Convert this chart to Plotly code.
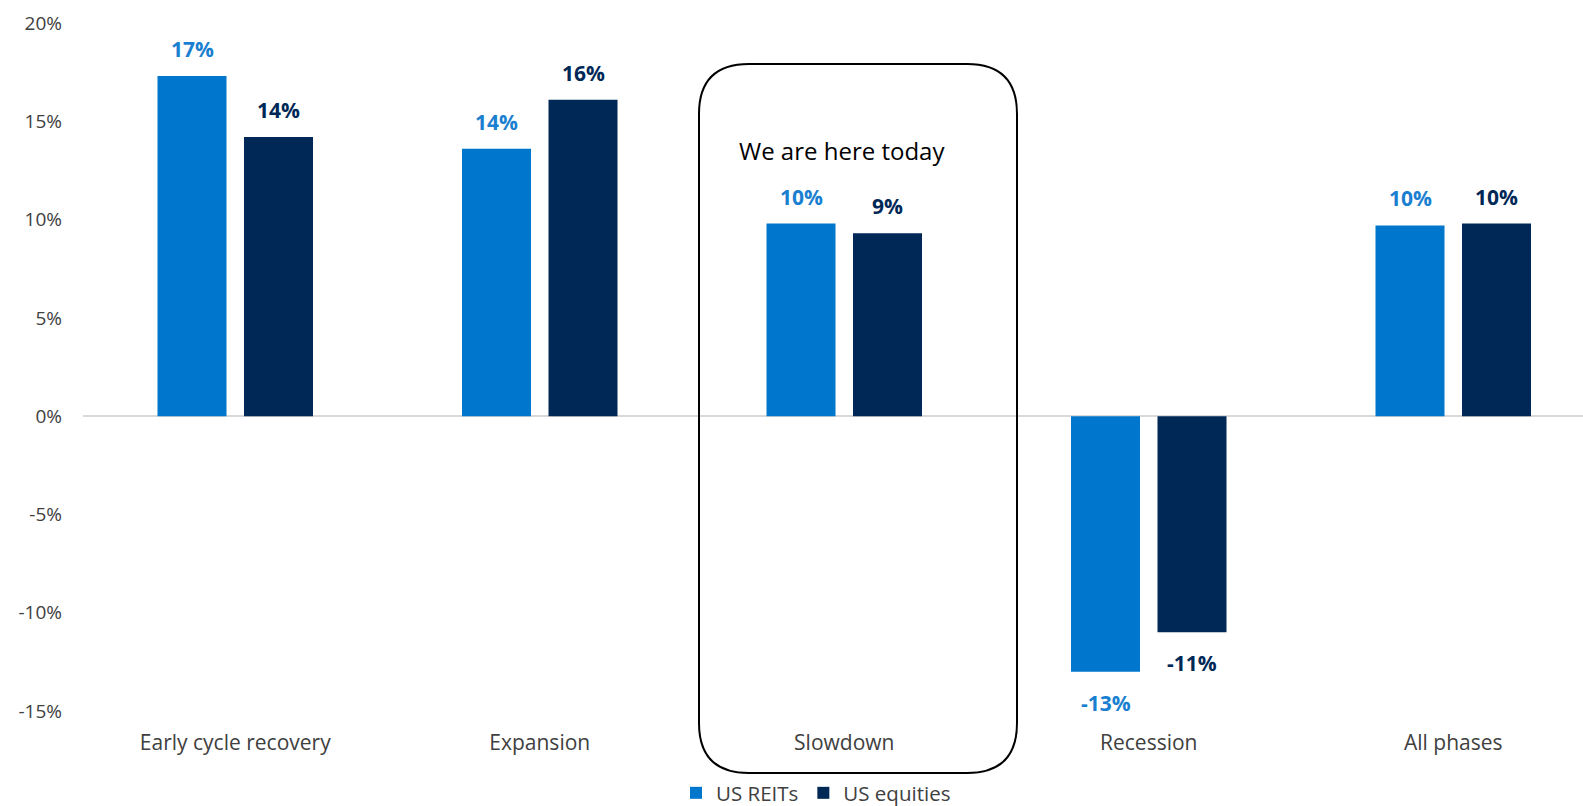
import plotly.graph_objects as go

categories = ["Early cycle recovery", "Expansion", "Slowdown", "Recession", "All phases"]
reits = [17.3, 13.6, 9.8, -13.0, 9.7]
equities = [14.2, 16.1, 9.3, -11.0, 9.8]
reit_labels = ["17%", "14%", "10%", "-13%", "10%"]
eq_labels = ["14%", "16%", "9%", "-11%", "10%"]
ytickvals = [-15, -10, -5, 0, 5, 10, 15, 20]
yticktext = ["-15%", "-10%", "-5%", "0%", "5%", "10%", "15%", "20%"]

C_REIT = "#0077CC"
C_EQ = "#002856"
FONT = "Open Sans"
TXT = "#404040"

W, H = 1583, 806
ML, MR, MT, MB = 83, 0, 23, 95
PW, PH = W - ML - MR, H - MT - MB
BAND = 304.5
SLOT = 86.5

fig = go.Figure()
fig.add_trace(go.Bar(x=categories, y=reits, name="US REITs", marker=dict(color=C_REIT, line=dict(width=0))))
fig.add_trace(go.Bar(x=categories, y=equities, name="US equities", marker=dict(color=C_EQ, line=dict(width=0))))

def add_labels(vals, labels, color, shift):
    for c, v, t in zip(categories, vals, labels):
        fig.add_annotation(x=c, y=v, text=f"<b>{t}</b>", showarrow=False, xshift=shift,
                           xanchor="center", yanchor="middle",
                           yshift=27 if v >= 0 else -31,
                           font=dict(family=FONT, size=21, color=color))

add_labels(reits, reit_labels, "#1A7FD0", -SLOT / 2)
add_labels(equities, eq_labels, C_EQ, SLOT / 2)

def px(x):
    return (x - ML) / PW

def py(y):
    return (MT + PH - y) / PH

# rounded box around Slowdown
x0, x1, y0, y1, r = 699, 1017, 64, 773, 50
path = (
    f"M {px(x0+r)},{py(y0)} L {px(x1-r)},{py(y0)} Q {px(x1)},{py(y0)} {px(x1)},{py(y0+r)} "
    f"L {px(x1)},{py(y1-r)} Q {px(x1)},{py(y1)} {px(x1-r)},{py(y1)} "
    f"L {px(x0+r)},{py(y1)} Q {px(x0)},{py(y1)} {px(x0)},{py(y1-r)} "
    f"L {px(x0)},{py(y0+r)} Q {px(x0)},{py(y0)} {px(x0+r)},{py(y0)} Z"
)
fig.add_shape(type="path", path=path, xref="paper", yref="paper",
              line=dict(color="black", width=2), fillcolor="rgba(0,0,0,0)")

fig.add_annotation(x=px(842), y=py(150), xref="paper", yref="paper", text="We are here today",
                   xanchor="center", yanchor="middle",
                   showarrow=False, font=dict(family=FONT, size=24, color="black"))

n_vis = PW / BAND
fig.update_layout(
    width=W, height=H,
    margin=dict(l=ML, r=MR, t=MT, b=MB, pad=0, autoexpand=False),
    paper_bgcolor="white", plot_bgcolor="white",
    barmode="group",
    bargap=1 - 2 * SLOT / BAND,
    bargroupgap=1 - 69 / SLOT,
    font=dict(family=FONT, size=19, color=TXT),
    showlegend=True,
    legend=dict(orientation="h", x=px(816), xanchor="center", y=py(793), yanchor="middle",
                font=dict(family=FONT, size=20.5, color=TXT), itemwidth=30,
                bgcolor="rgba(0,0,0,0)"),
    xaxis=dict(type="category", range=[-0.5, -0.5 + n_vis], showgrid=False, showline=False,
               automargin=False,
               ticks="", ticklabelstandoff=17, tickfont=dict(family=FONT, size=21, color=TXT)),
    yaxis=dict(range=[-15, 20], tickvals=ytickvals, ticktext=yticktext, showgrid=False,
               automargin=False,
               showline=False, ticks="", zeroline=True, zerolinecolor="#d9d9d9", zerolinewidth=2,
               ticklabelstandoff=20, tickfont=dict(family=FONT, size=19, color=TXT)),
)

post = (
    "document.documentElement.style.margin='0';"
    "document.documentElement.style.overflow='hidden';"
    "document.body.style.margin='0';"
    "document.body.style.overflow='hidden';"
)
fig.write_html("out.html", config={"displayModeBar": False}, post_script=post)
